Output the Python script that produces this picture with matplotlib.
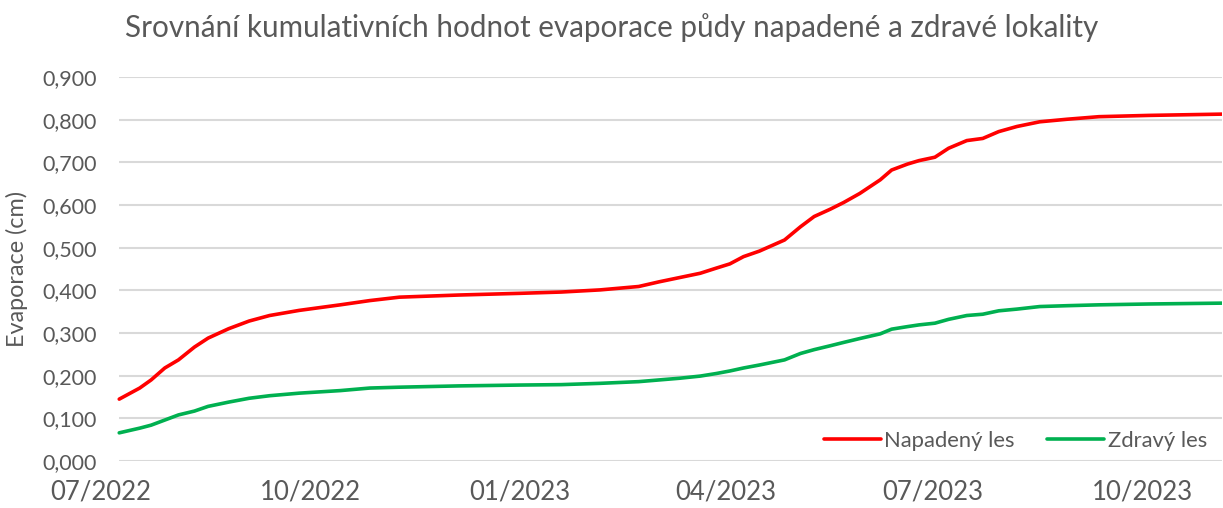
import numpy as np
import pandas as pd
import matplotlib
matplotlib.use("Agg")
import matplotlib.pyplot as plt
import matplotlib.dates as mdates
from matplotlib.ticker import FuncFormatter

plt.rcParams['font.family'] = ['Lato', 'DejaVu Sans']

# values
dates = ["2022-07-09", "2022-07-18", "2022-07-23", "2022-07-29", "2022-08-04",
         "2022-08-11", "2022-08-17", "2022-08-26", "2022-09-04", "2022-09-13",
         "2022-09-26", "2022-10-14", "2022-10-27", "2022-11-09", "2022-12-05",
         "2023-01-01", "2023-01-19", "2023-02-05", "2023-02-22", "2023-03-03",
         "2023-03-12", "2023-03-21", "2023-03-28", "2023-04-03", "2023-04-09",
         "2023-04-16", "2023-04-27", "2023-05-04", "2023-05-10", "2023-05-17",
         "2023-05-23", "2023-05-30", "2023-06-08", "2023-06-13", "2023-06-20",
         "2023-06-25", "2023-07-02", "2023-07-08", "2023-07-16", "2023-07-23",
         "2023-07-30", "2023-08-07", "2023-08-17", "2023-08-29", "2023-09-12",
         "2023-10-04", "2023-11-05"]

napadeny = [0.145, 0.171, 0.190, 0.218, 0.237, 0.267, 0.288, 0.310, 0.328, 0.341,
            0.353, 0.366, 0.376, 0.384, 0.389, 0.393, 0.396, 0.401, 0.409, 0.420,
            0.430, 0.440, 0.452, 0.462, 0.479, 0.492, 0.518, 0.549, 0.573, 0.590,
            0.606, 0.627, 0.659, 0.682, 0.696, 0.704, 0.712, 0.733, 0.751, 0.756,
            0.772, 0.784, 0.795, 0.801, 0.807, 0.810, 0.813]

zdravy = [0.066, 0.077, 0.084, 0.096, 0.108, 0.117, 0.128, 0.138, 0.147, 0.153,
          0.159, 0.165, 0.171, 0.173, 0.176, 0.178, 0.179, 0.182, 0.186, 0.190,
          0.194, 0.199, 0.205, 0.211, 0.218, 0.225, 0.237, 0.252, 0.261, 0.270,
          0.278, 0.287, 0.298, 0.309, 0.315, 0.319, 0.323, 0.332, 0.341, 0.344,
          0.352, 0.356, 0.362, 0.364, 0.366, 0.368, 0.370]

x_ticks = ["2022-07-01", "2022-10-01", "2023-01-01", "2023-04-01", "2023-07-01", "2023-10-01"]
y_ticks = [0.0, 0.1, 0.2, 0.3, 0.4, 0.5, 0.6, 0.7, 0.8, 0.9]

title = "Srovnání kumulativních hodnot evaporace půdy napadené a zdravé lokality"
ylabel = "Evaporace (cm)"

text_col = "#595959"
grid_col = "#D9D9D9"

d = pd.to_datetime(dates)
xt = pd.to_datetime(x_ticks)

fig = plt.figure(figsize=(12.23, 5.08), dpi=100)
ax = fig.add_axes([101 / 1223, 1 - 461 / 508, 1121 / 1223, 384 / 508])

# grid only spans the data range, like the Excel plot area
for v in y_ticks:
    ax.hlines(v, d[0], d[-1], color=grid_col, lw=1.5, zorder=1)

ax.plot(d, napadeny, color="#FF0000", lw=2.6, label="Napadený les", zorder=3,
        solid_capstyle="round")
ax.plot(d, zdravy, color="#00B050", lw=2.6, label="Zdravý les", zorder=3,
        solid_capstyle="round")

ax.set_xlim(xt[0], d[-1])
ax.set_ylim(0, 0.9)
ax.set_yticks(y_ticks)
ax.yaxis.set_major_formatter(FuncFormatter(lambda v, p: f"{v:.3f}".replace(".", ",")))
ax.set_xticks(xt)
ax.xaxis.set_major_formatter(mdates.DateFormatter("%m/%Y"))

for s in ax.spines.values():
    s.set_visible(False)
ax.tick_params(axis="both", length=0, colors=text_col)
ax.tick_params(axis="y", labelsize=15.5, pad=3)
ax.tick_params(axis="x", labelsize=18.5, pad=13)

ax.set_ylabel(ylabel, fontsize=16.8, color=text_col, labelpad=10)
fig.text(0.5, 0.945, title, ha="center", va="center", fontsize=21.3, color=text_col)

leg = ax.legend(loc="center right", bbox_to_anchor=(0.9866, 0.052), ncol=2,
                frameon=False, fontsize=15.8, handlelength=2.6, handletextpad=0.15,
                columnspacing=1.5, borderpad=0, borderaxespad=0)
for t in leg.get_texts():
    t.set_color(text_col)

fig.savefig("out.png", dpi=100)
